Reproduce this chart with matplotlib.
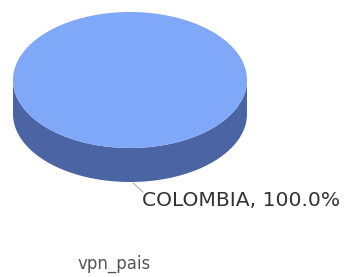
import numpy as np
import matplotlib
matplotlib.use("Agg")
import matplotlib.pyplot as plt
from matplotlib.patches import Polygon

categories = ["COLOMBIA"]
values = [100.0]
title = "vpn_pais"

top_colors = ["#80a8f8"]
side_colors = ["#4a64a4"]

W, H = 348, 277
fig = plt.figure(figsize=(W / 100, H / 100), dpi=100)
ax = fig.add_axes([0, 0, 1, 1])
ax.set_xlim(0, W)
ax.set_ylim(H, 0)
ax.axis("off")

cx, cy, a, b, depth = 130, 80, 117, 68, 34
total = sum(values)
start = 90.0
for v, tc, sc in zip(values, top_colors, side_colors):
    sweep = 360.0 * v / total
    t = np.radians(np.linspace(0, 180, 200))
    xs = cx + a * np.cos(t)
    ys = cy + b * np.sin(t)
    side = np.concatenate([np.column_stack([xs, ys]),
                           np.column_stack([xs[::-1], ys[::-1] + depth])])
    ax.add_patch(Polygon(side, closed=True, facecolor=sc, edgecolor="none"))
    t2 = np.radians(np.linspace(start, start + sweep, 400))
    pts = np.column_stack([cx + a * np.cos(t2), cy + b * np.sin(t2)])
    if sweep < 360:
        pts = np.vstack([[cx, cy], pts])
    ax.add_patch(Polygon(pts, closed=True, facecolor=tc, edgecolor="none"))
    start += sweep

label = f"{categories[0]}, {values[0] / total * 100:.1f}%"
ax.plot([133, 143], [183, 192], color="#b0b0b0", lw=0.8)
ax.text(142, 201, label, fontsize=14.6, color="#333333", va="center", ha="left")
ax.text(114, 264, title, fontsize=12, color="#555555", va="center", ha="center")

fig.savefig("out.png", dpi=100, facecolor="white")
